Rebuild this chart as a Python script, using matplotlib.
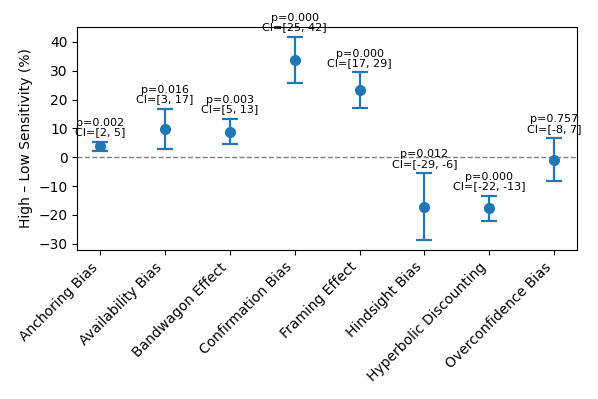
import matplotlib.pyplot as plt
import numpy as np

biases = ["Anchoring Bias", "Availability Bias", "Bandwagon Effect", "Confirmation Bias",
          "Framing Effect", "Hindsight Bias", "Hyperbolic Discounting", "Overconfidence Bias"]
means = [3.75, 9.8, 8.9, 33.8, 23.2, -17.3, -17.8, -0.9]
ci_low = [2.1, 2.8, 4.6, 25.6, 17.1, -28.8, -22.0, -8.4]
ci_high = [5.4, 16.8, 13.3, 41.8, 29.4, -5.6, -13.3, 6.6]
p_vals = [0.002, 0.016, 0.003, 0.000, 0.000, 0.012, 0.000, 0.757]
ci_labels = ["[2, 5]", "[3, 17]", "[5, 13]", "[25, 42]", "[17, 29]", "[-29, -6]", "[-22, -13]", "[-8, 7]"]

x = np.arange(len(biases))
means = np.array(means)
lo = means - np.array(ci_low)
hi = np.array(ci_high) - means

fig, ax = plt.subplots(figsize=(5.98, 3.99), dpi=100)
ax.errorbar(x, means, yerr=[lo, hi], fmt='o', color='#1f77b4', markersize=7,
            elinewidth=1.6, capsize=6, capthick=1.6)
ax.axhline(0, color='gray', linestyle='--', linewidth=1)

for i in range(len(biases)):
    ax.text(x[i], ci_high[i] + 1.5, f"p={p_vals[i]:.3f}\nCI={ci_labels[i]}",
            ha='center', va='bottom', fontsize=8, linespacing=0.95)

ax.set_xticks(x)
ax.set_xticklabels(biases, rotation=45, ha='right')
ax.set_ylabel("High \u2013 Low Sensitivity (%)")
fig.tight_layout()
fig.savefig("out.png")
